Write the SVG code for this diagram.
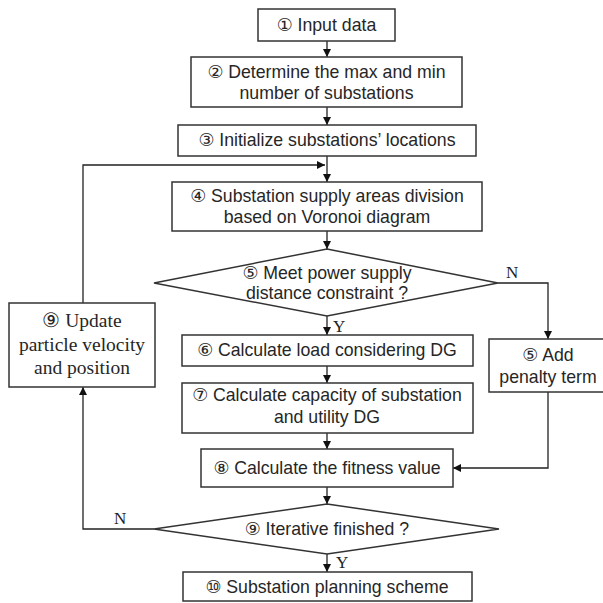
<svg xmlns="http://www.w3.org/2000/svg" width="603" height="603" viewBox="0 0 603 603">
<defs>
<marker id="ah" markerUnits="userSpaceOnUse" markerWidth="9" markerHeight="9" refX="8" refY="4" orient="auto">
<path d="M0,0 L8,4 L0,8 z" fill="#111"/>
</marker>
<style>
.box{fill:#fff;stroke:#333;stroke-width:1.5}
.t{font-family:"Liberation Sans","DejaVu Sans",Arial,sans-serif;font-size:17.7px;fill:#262626;text-anchor:middle}
.s{font-family:"Liberation Serif","DejaVu Serif","Times New Roman",serif;font-size:19.5px;fill:#262626;text-anchor:middle}
.lbl{font-family:"Liberation Serif","DejaVu Serif","Times New Roman",serif;font-size:17px;fill:#222}
.c{fill:none;stroke:#222;stroke-width:1.3}
.ca{fill:none;stroke:#222;stroke-width:1.3;marker-end:url(#ah)}
</style>
</defs>
<rect width="603" height="603" fill="#fff"/>
<g id="connectors">
<line class="ca" x1="327" y1="41" x2="327" y2="57"/>
<line class="ca" x1="327" y1="107" x2="327" y2="125"/>
<line class="ca" x1="327" y1="156" x2="327" y2="182"/>
<polyline class="ca" points="83,303 83,165 325,165"/>
<line class="ca" x1="327" y1="231" x2="327" y2="249"/>
<line class="ca" x1="327" y1="316" x2="327" y2="335"/>
<polyline class="ca" points="498,283 548,283 548,339"/>
<line class="ca" x1="327" y1="366" x2="327" y2="383"/>
<line class="ca" x1="327" y1="433" x2="327" y2="449"/>
<polyline class="ca" points="548,392 548,468 453,468"/>
<line class="ca" x1="327" y1="487" x2="327" y2="504"/>
<polyline class="ca" points="154,529 83,529 83,387"/>
<line class="ca" x1="327" y1="554" x2="327" y2="572"/>
<text class="lbl" x="506" y="278">N</text>
<text class="lbl" x="333" y="332">Y</text>
<text class="lbl" x="114" y="524">N</text>
<text class="lbl" x="336" y="568">Y</text>
</g>
<g id="n1">
<rect class="box" x="258" y="9" width="137" height="32"/>
<text class="t" x="326.5" y="31">① Input data</text>
</g>
<g id="n2">
<rect class="box" x="191" y="57" width="271" height="50"/>
<text class="t" x="326.5" y="78">② Determine the max and min</text>
<text class="t" x="326.5" y="99">number of substations</text>
</g>
<g id="n3">
<rect class="box" x="178" y="125" width="298" height="31"/>
<text class="t" x="327" y="146">③ Initialize substations’ locations</text>
</g>
<g id="n4">
<rect class="box" x="172" y="182" width="310" height="49"/>
<text class="t" x="327" y="202">④ Substation supply areas division</text>
<text class="t" x="327" y="223">based on Voronoi diagram</text>
</g>
<g id="n5">
<polygon class="box" points="327,249 498,283 327,316 154,283"/>
<text class="t" x="327" y="279">⑤ Meet power supply</text>
<text class="t" x="327" y="299">distance constraint ?</text>
</g>
<g id="n5b">
<rect class="box" x="489" y="339" width="118" height="53"/>
<text class="t" x="548" y="361">⑤ Add</text>
<text class="t" x="548" y="383">penalty term</text>
</g>
<g id="n6">
<rect class="box" x="182" y="335" width="291" height="31"/>
<text class="t" x="327" y="356">⑥ Calculate load considering DG</text>
</g>
<g id="n7">
<rect class="box" x="182" y="383" width="291" height="50"/>
<text class="t" x="327" y="401">⑦ Calculate capacity of substation</text>
<text class="t" x="327" y="423">and utility DG</text>
</g>
<g id="n8">
<rect class="box" x="201" y="449" width="252" height="38"/>
<text class="t" x="327" y="474">⑧ Calculate the fitness value</text>
</g>
<g id="n9">
<polygon class="box" points="327,504 499,529 327,554 154,529"/>
<text class="t" x="327" y="535">⑨ Iterative finished ?</text>
</g>
<g id="n9b">
<rect class="box" x="9" y="303" width="146" height="84"/>
<text class="s" x="82" y="327">⑨ Update</text>
<text class="s" x="82" y="351">particle velocity</text>
<text class="s" x="82" y="374">and position</text>
</g>
<g id="n10">
<rect class="box" x="183" y="572" width="289" height="29"/>
<text class="t" x="327" y="593">⑩ Substation planning scheme</text>
</g>
</svg>
